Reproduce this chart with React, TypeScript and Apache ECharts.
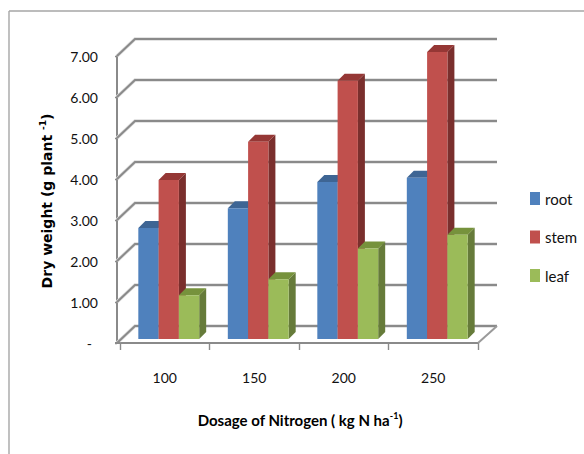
import React, { useEffect, useRef } from "react";
import * as echarts from "echarts";

const categories = ["100", "150", "200", "250"];
const gridValues = [0, 1, 2, 3, 4, 5, 6, 7];
const root = [2.71, 3.19, 3.83, 3.93];
const stem = [3.88, 4.81, 6.3, 7.0];
const leaf = [1.07, 1.46, 2.21, 2.54];

const FONT = "Lato";
const GREY = "#8a8a8a";
const WALL_DX = 18;
const WALL_DY = 17;
const BAR_DX = 4;
const BAR_DY = 4;
const DEPTH = 7;
const BAR_RATIO = 0.2267;

function barRender(k: number, front: string, side: string, top: string) {
  return (_p: any, api: any) => {
    const i = api.value(0);
    const [cx, yTop] = api.coord([i, api.value(1)]);
    const [, yBase] = api.coord([i, 0]);
    const w = api.size([1, 0])[0] * BAR_RATIO;
    const x0 = cx + BAR_DX + (k - 1.5) * w;
    const x1 = x0 + w;
    const y0 = yTop - BAR_DY;
    const y1 = yBase - BAR_DY;
    return {
      type: "group",
      children: [
        { type: "polygon", shape: { points: [[x1, y0], [x1 + DEPTH, y0 - DEPTH], [x1 + DEPTH, y1 - DEPTH], [x1, y1]] }, style: { fill: side } },
        { type: "polygon", shape: { points: [[x0, y0], [x0 + DEPTH, y0 - DEPTH], [x1 + DEPTH, y0 - DEPTH], [x1, y0]] }, style: { fill: top } },
        { type: "rect", shape: { x: x0, y: y0, width: w, height: y1 - y0 }, style: { fill: front } },
      ],
    };
  };
}

function wallRender(params: any, api: any) {
  const v = api.value(0);
  const cs = params.coordSys;
  const y = api.coord([0, v])[1];
  const xl = cs.x - 3;
  const xr = cs.x + cs.width;
  const pts = [[xl, y], [xl + WALL_DX, y - WALL_DY], [xr + 19, y - WALL_DY]];
  const children: any[] = [
    { type: "polyline", shape: { points: pts }, style: { stroke: "#dcdcdc", lineWidth: 3.4, fill: "none" } },
    { type: "polyline", shape: { points: pts }, style: { stroke: GREY, lineWidth: 2, fill: "none" } },
  ];
  if (v === 0) {
    children.push(
      { type: "line", shape: { x1: xr, y1: y, x2: xr + 19, y2: y - WALL_DY }, style: { stroke: "#9a9a9a", lineWidth: 2 } },
      { type: "line", shape: { x1: cs.x - 5, y1: y, x2: cs.x, y2: y }, style: { stroke: GREY, lineWidth: 2 } }
    );
  }
  return { type: "group", children };
}

const barSeries = (name: string, data: number[], k: number, front: string, side: string, top: string) => ({
  type: "custom",
  name,
  renderItem: barRender(k, front, side, top),
  data: data.map((v, i) => [i, v]),
  encode: { x: 0, y: 1 },
  itemStyle: { color: front },
  silent: true,
});

export default function App() {
  const ref = useRef<HTMLDivElement>(null);
  useEffect(() => {
    const chart = echarts.init(ref.current!, undefined, { renderer: "svg" });
    chart.setOption({
      animation: false,
      backgroundColor: "#ffffff",
      grid: { left: 120, right: 106, top: 56, bottom: 111 },
      xAxis: {
        type: "category",
        data: categories,
        axisLine: { lineStyle: { color: GREY, width: 2 } },
        axisTick: { show: true, length: 7, lineStyle: { color: GREY, width: 1.4 } },
        axisLabel: { margin: 27, fontFamily: FONT, fontSize: 14, color: "#111" },
      },
      yAxis: {
        type: "value",
        min: 0,
        max: 7,
        interval: 1,
        offset: 3,
        splitLine: { show: false },
        axisLine: { show: true, lineStyle: { color: GREY, width: 2 } },
        axisTick: { show: true, length: 2, lineStyle: { color: GREY, width: 1.4 } },
        axisLabel: {
          margin: 19,
          fontFamily: FONT,
          fontSize: 14,
          color: "#111",
          formatter: (v: number) => (v === 0 ? "{d|-}" : v.toFixed(2)),
          rich: { d: { fontFamily: FONT, fontSize: 14, color: "#111", padding: [0, 6, 0, 0] } },
        },
      },
      legend: {
        orient: "vertical",
        left: 530,
        top: 191,
        padding: 0,
        itemWidth: 10,
        itemHeight: 13,
        itemGap: 23.5,
        icon: "rect",
        data: ["root", "stem", "leaf"],
        textStyle: { fontFamily: FONT, fontSize: 15, color: "#111", lineHeight: 13 },
        selectedMode: false,
      },
      series: [
        { type: "custom", renderItem: wallRender, data: gridValues.map((v) => [v]), encode: { y: 0 }, silent: true, z: 1 },
        barSeries("root", root, 0, "#4F81BD", "#3A5F8C", "#3E6594"),
        barSeries("stem", stem, 1, "#C0504D", "#7A2F2D", "#953735"),
        barSeries("leaf", leaf, 2, "#9BBB59", "#667B3A", "#76923C"),
      ],
      graphic: [
        { type: "line", silent: true, shape: { x1: 9, y1: 11, x2: 584, y2: 11 }, style: { stroke: "#a6a6a6", lineWidth: 1.4 } },
        { type: "line", silent: true, shape: { x1: 9, y1: 11, x2: 9, y2: 454 }, style: { stroke: "#a6a6a6", lineWidth: 1.4 } },
        {
          type: "text",
          silent: true,
          x: 300,
          y: 420,
          style: {
            text: "{a|Dosage of Nitrogen ( kg N ha}{s|-1}{a|)}",
            align: "center",
            verticalAlign: "middle",
            rich: {
              a: { fontFamily: FONT, fontWeight: "bold", fontSize: 15, lineHeight: 18, color: "#111" },
              s: { fontFamily: FONT, fontWeight: "bold", fontSize: 9, lineHeight: 12, verticalAlign: "top", color: "#111" },
            },
          },
        },
        {
          type: "text",
          silent: true,
          x: 47,
          y: 201,
          rotation: Math.PI / 2,
          style: {
            text: "{a|Dry weight (g plant }{s|-1}{a|)}",
            align: "center",
            verticalAlign: "middle",
            rich: {
              a: { fontFamily: "DejaVu Sans", fontWeight: "bold", fontSize: 14, lineHeight: 18, color: "#111" },
              s: { fontFamily: "DejaVu Sans", fontWeight: "bold", fontSize: 9, lineHeight: 12, verticalAlign: "top", color: "#111" },
            },
          },
        },
      ],
    });
    return () => chart.dispose();
  }, []);
  return <div ref={ref} style={{ position: "absolute", left: 0, top: 0, width: 584, height: 454 }} />;
}
